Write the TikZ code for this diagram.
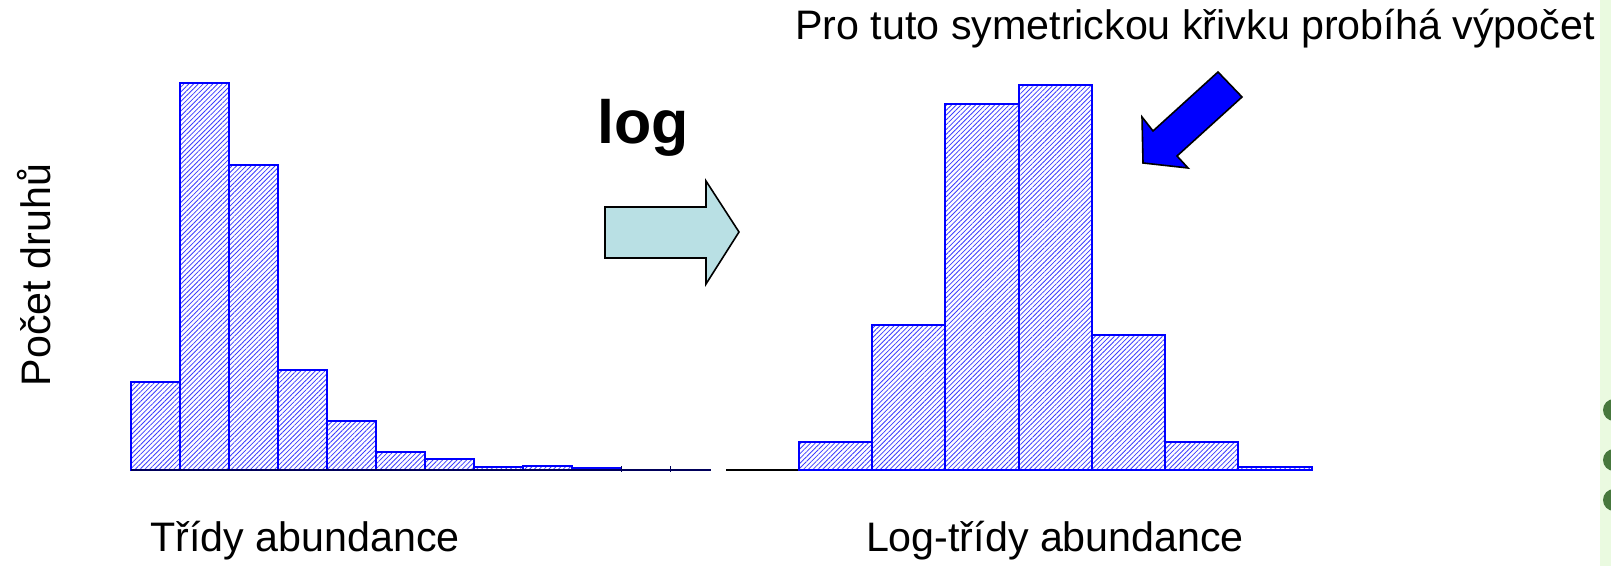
\documentclass[tikz,border=0pt]{standalone}
\usepackage{fontspec}
\setmainfont{Liberation Sans}
\usetikzlibrary{patterns.meta}
\definecolor{arrowteal}{RGB}{185,224,228}
\definecolor{stripgreen}{RGB}{234,250,224}
\definecolor{dotgreen}{RGB}{70,120,60}
\definecolor{axisnavy}{RGB}{0,0,90}
\definecolor{hatchblue}{RGB}{60,60,255}

\begin{document}
\begin{tikzpicture}[x=0.5pt,y=-0.5pt,
	bar/.style={draw=blue,line width=1.3pt,pattern={Lines[angle=45,distance=1.7pt,line width=0.4pt]},pattern color=hatchblue},
	axisline/.style={draw=axisnavy,line width=1pt},
	txt/.style={font=\fontsize{20.6}{24}\selectfont,inner sep=0pt},
	blockarrow/.style={draw=black,line width=0.8pt,line join=miter}]
	\useasboundingbox (0,0) rectangle (1611,566);

	% slide border on the right
	\fill[stripgreen] (1600,0) rectangle (1611,566);
	\begin{scope}
		\clip (1600,340) rectangle (1611,566);
		\foreach \y in {410,460,500}
			\fill[dotgreen] (1614,\y) circle (11);
	\end{scope}

	% left histogram
	\foreach \l/\r/\t in {131/180/382,180/229/83,229/278/165,278/327/370,327/376/421,376/425/452,425/474/459,474/523/467,523/572/466,572/621/468}
		\draw[bar] (\l,470) rectangle (\r,\t);
	\draw[axisline] (131,470) -- (711,470);
	\foreach \x in {621,670}
		\draw[axisnavy] (\x,466) -- (\x,472);

	% right histogram
	\draw[line width=1pt] (726,470) -- (1312,470);
	\foreach \l/\r/\t in {799/872/442,872/945/325,945/1019/104,1019/1092/85,1092/1165/335,1165/1238/442,1238/1312/467}
		\draw[bar] (\l,470) rectangle (\r,\t);

	% texts
	\node[txt,rotate=90]	(ylabel)	at (34,275)		{Počet druhů};
	\node[txt]				(xleft)		at (305,541)	{Třídy abundance};
	\node[txt]				(xright)	at (1055,541)	{Log-třídy abundance};
	\node[txt]				(note)		at (1195,29)	{Pro tuto symetrickou křivku probíhá výpočet};
	\node[txt,font=\fontsize{30.5}{34}\selectfont\bfseries]	(logtxt)	at (643,128)	{log};

	% arrows
	\draw[blockarrow,fill=arrowteal] (605,207) -- (706,207) -- (706,181) -- (739,232) -- (706,284) -- (706,258) -- (605,258) -- cycle;
	\draw[blockarrow,fill=blue] (1218,72) -- (1242,97) -- (1177,156) -- (1188,168) -- (1143,163) -- (1142,117) -- (1153,131) -- cycle;
\end{tikzpicture}
\end{document}
